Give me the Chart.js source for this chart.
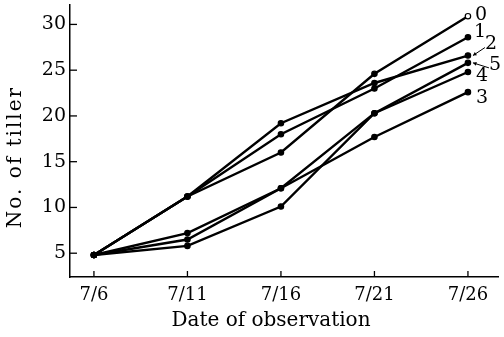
<!DOCTYPE html>
<html>
<head>
<meta charset="utf-8">
<script src="https://cdn.jsdelivr.net/npm/chart.js@4/dist/chart.umd.min.js"></script>
<style>
  body { margin: 0; background: #fff; }
  canvas { display: block; }
</style>
</head>
<body>
<canvas id="tillerChart" width="504" height="337"></canvas>
<script>
// data
const dates = ['7/6', '7/11', '7/16', '7/21', '7/26'];
const tiller0 = [4.8, 11.2, 16.0, 24.6, 30.9];
const tiller1 = [4.8, 11.2, 18.0, 23.0, 28.6];
const tiller2 = [4.8, 11.2, 19.2, 23.6, 26.6];
const tiller3 = [4.8, 7.2, 12.1, 17.7, 22.6];
const tiller4 = [4.8, 5.8, 10.1, 20.3, 24.8];
const tiller5 = [4.8, 6.5, 12.1, 20.3, 25.8];
const seriesNames = ['0', '1', '2', '3', '4', '5'];
const yTicks = [5, 10, 15, 20, 25, 30];
const xTitle = 'Date of observation';
const yTitle = 'No. of tiller';

const FONT = "'DejaVu Serif', 'Liberation Serif', serif";

// label offsets from end point (px) -- [dx, dy, arrow?]
const labelPos = {
  '0': [13, -1, false],
  '1': [12, -5, false],
  '2': [23, -11, true],
  '5': [27, 2, true],
  '4': [14, 4, false],
  '3': [14, 6, false]
};

function makeSet(name, vals){
  return {
    label: name,
    data: vals.map((v, i) => ({x: i, y: v})),
    borderColor: '#000',
    borderWidth: 2.4,
    pointRadius: 2.7,
    pointBorderWidth: 1.2,
    pointBorderColor: '#000',
    pointBackgroundColor: vals.map((v, i) => (name === '0' && i === vals.length - 1) ? '#fff' : '#000'),
    tension: 0,
    fill: false
  };
}

const allSeries = [tiller0, tiller1, tiller2, tiller3, tiller4, tiller5];

// inward ticks, axis titles, end labels
const decorPlugin = {
  id: 'decor',
  afterDraw(chart){
    const ctx = chart.ctx;
    const xs = chart.scales.x, ys = chart.scales.y;
    ctx.save();
    ctx.strokeStyle = '#000';
    ctx.lineWidth = 1.3;
    yTicks.forEach(v => {
      const py = ys.getPixelForValue(v);
      ctx.beginPath(); ctx.moveTo(xs.left, py); ctx.lineTo(xs.left + 7, py); ctx.stroke();
    });
    dates.forEach((d, i) => {
      const px = xs.getPixelForValue(i);
      ctx.beginPath(); ctx.moveTo(px, ys.bottom); ctx.lineTo(px, ys.bottom - 6); ctx.stroke();
    });

    ctx.fillStyle = '#000';
    ctx.textAlign = 'center';
    ctx.textBaseline = 'middle';

    // axis titles
    ctx.font = '20px ' + FONT;
    ctx.fillText(xTitle, 271, 321);
    ctx.save();
    ctx.translate(16, 157);
    ctx.rotate(-Math.PI / 2);
    ctx.letterSpacing = '2px';
    ctx.fillText(yTitle, 0, 0);
    ctx.restore();

    ctx.font = '19px ' + FONT;
    allSeries.forEach((vals, k) => {
      const name = seriesNames[k];
      const last = vals.length - 1;
      const px = xs.getPixelForValue(last);
      const py = ys.getPixelForValue(vals[last]);
      const p = labelPos[name];
      ctx.fillText(name, px + p[0], py + p[1]);
      if (p[2]) {
        // little arrow from label to point
        const sx = px + p[0] - 6, sy = py + p[1] + 3;
        const ex = px + 5, ey = py;
        ctx.lineWidth = 1;
        ctx.beginPath(); ctx.moveTo(sx, sy); ctx.lineTo(ex, ey); ctx.stroke();
        const ang = Math.atan2(ey - sy, ex - sx);
        ctx.beginPath();
        ctx.moveTo(ex, ey);
        ctx.lineTo(ex - 4 * Math.cos(ang - 0.5), ey - 4 * Math.sin(ang - 0.5));
        ctx.lineTo(ex - 4 * Math.cos(ang + 0.5), ey - 4 * Math.sin(ang + 0.5));
        ctx.closePath(); ctx.fill();
      }
    });
    ctx.restore();
  }
};

const ctx = document.getElementById('tillerChart').getContext('2d');
new Chart(ctx, {
  type: 'line',
  data: { datasets: allSeries.map((v, k) => makeSet(seriesNames[k], v)) },
  options: {
    responsive: false,
    animation: false,
    layout: { padding: { left: 0, top: 3, right: 4, bottom: 0 } },
    plugins: { legend: { display: false }, tooltip: { enabled: false } },
    scales: {
      x: {
        type: 'linear',
        min: -0.256,
        max: 4.33,
        afterFit(s){ s.height = 60; s.paddingLeft = 0; s.paddingRight = 0; },
        afterBuildTicks(s){ s.ticks = dates.map((d, i) => ({value: i})); },
        grid: { display: true, drawOnChartArea: false, drawTicks: false },
        border: { display: true, color: '#000', width: 1.5 },
        ticks: {
          color: '#000',
          padding: 8,
          maxRotation: 0,
          font: { family: FONT, size: 18 },
          callback: v => dates[v]
        }
      },
      y: {
        min: 2.4,
        max: 32.1,
        afterFit(s){ s.width = 70; s.paddingTop = 0; s.paddingBottom = 0; },
        afterBuildTicks(s){ s.ticks = yTicks.map(v => ({value: v})); },
        grid: { display: true, drawOnChartArea: false, drawTicks: false },
        border: { display: true, color: '#000', width: 1.5 },
        ticks: {
          color: '#000',
          padding: 4,
          font: { family: FONT, size: 19 }
        }
      }
    }
  },
  plugins: [decorPlugin]
});
</script>
</body>
</html>
